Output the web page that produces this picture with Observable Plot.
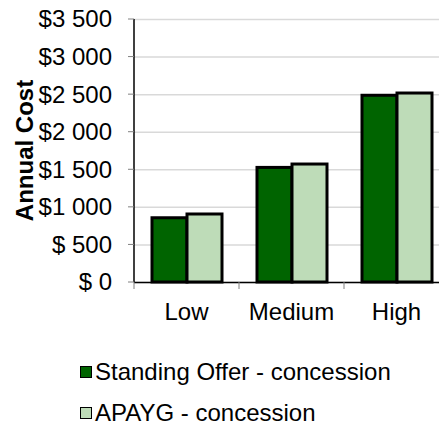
<!DOCTYPE html>
<html><head><meta charset="utf-8">
<script src="https://cdn.jsdelivr.net/npm/d3@7"></script>
<script src="https://cdn.jsdelivr.net/npm/@observablehq/plot@0.6"></script>
<style>
html,body{margin:0;padding:0;background:#fff;overflow:hidden;width:439px;height:426px}
body{font-family:"Liberation Sans",Arial,sans-serif;color:#000}
#chart{width:449px}
#chart svg{display:block;max-width:none !important;width:449px;height:335px}
#legend{margin-top:16px;font-size:24px}
.item{display:flex;align-items:center;height:41.5px;padding-left:80px;white-space:nowrap}
.sw{width:10px;height:10px;border:1px solid #000;margin-right:3px;flex:none}
</style></head><body><div id="chart"></div><div id="legend"></div>
<script>
const categories = ["Low", "Medium", "High"];
const seriesNames = ["Standing Offer - concession", "APAYG - concession"];
const standingOffer = [855, 1525, 2485];
const apayg = [905, 1570, 2515];
const yTicks = [0, 500, 1000, 1500, 2000, 2500, 3000, 3500];
const yTickLabels = ["$ 0", "$ 500", "$1 000", "$1 500", "$2 000", "$2 500", "$3 000", "$3 500"];
const colors = ["#006400", "#bedcb8"];
const yLabel = "Annual Cost";

const data = categories.flatMap((c, i) => [
  {category: c, series: seriesNames[0], value: standingOffer[i]},
  {category: c, series: seriesNames[1], value: apayg[i]}
]);

const chart = Plot.plot({
  width: 449, height: 335,
  marginLeft: 133, marginRight: 0, marginTop: 19, marginBottom: 53,
  style: {fontFamily: "Liberation Sans, Arial, sans-serif", fontSize: "24px", color: "#000", background: "#fff", overflow: "hidden", maxWidth: "none"},
  fx: {domain: categories, padding: 0, label: null, axis: null},
  x: {domain: seriesNames, paddingInner: 0, paddingOuter: 0.479, axis: null},
  y: {domain: [0, 3500], label: null, axis: null},
  color: {domain: seriesNames, range: colors},
  marks: [
    Plot.ruleY(yTicks, {stroke: "#d9d9d9", strokeWidth: 1.5}),
    Plot.barY(data, {fx: "category", x: "series", y: "value", fill: "series", stroke: "#000", strokeWidth: 3}),
    Plot.ruleY([0], {stroke: "#000", strokeWidth: 1.5})
  ]
});
document.getElementById("chart").appendChild(chart);

// axes drawn with D3 from Plot's own scales
const fx = chart.scale("fx"), y = chart.scale("y");
const svg = d3.select(chart);
const y0 = y.apply(0), yTop = y.apply(3500);
const left = fx.apply(categories[0]);
const font = "Liberation Sans, Arial, sans-serif";
const ax = svg.append("g").attr("font-family", font).attr("font-size", 24);
ax.append("line").attr("x1", left).attr("x2", left).attr("y1", yTop).attr("y2", y0)
  .attr("stroke", "#000").attr("stroke-width", 1.5);
yTicks.forEach((t, i) => {
  const py = y.apply(t);
  ax.append("line").attr("x1", left - 6).attr("x2", left).attr("y1", py).attr("y2", py)
    .attr("stroke", "#808080").attr("stroke-width", 1);
  ax.append("text").attr("x", left - 22).attr("y", py).attr("dy", "0.35em")
    .attr("text-anchor", "end").attr("fill", "#000").text(yTickLabels[i]);
});
categories.forEach(c => {
  const x0 = fx.apply(c);
  ax.append("line").attr("x1", x0).attr("x2", x0).attr("y1", y0).attr("y2", y0 + 7)
    .attr("stroke", "#808080").attr("stroke-width", 1);
  ax.append("text").attr("x", x0 + fx.bandwidth / 2).attr("y", y0 + 38)
    .attr("text-anchor", "middle").attr("fill", "#000").text(c);
});
ax.append("text")
  .attr("transform", `translate(33,${(y0 + yTop) / 2}) rotate(-90)`)
  .attr("text-anchor", "middle").attr("font-weight", "bold").attr("fill", "#000").text(yLabel);

const legend = document.getElementById("legend");
seriesNames.forEach((s, i) => {
  const item = document.createElement("div");
  item.className = "item";
  const sw = document.createElement("span");
  sw.className = "sw";
  sw.style.background = colors[i];
  const t = document.createElement("span");
  t.textContent = s;
  item.appendChild(sw); item.appendChild(t);
  legend.appendChild(item);
});
</script></body></html>
